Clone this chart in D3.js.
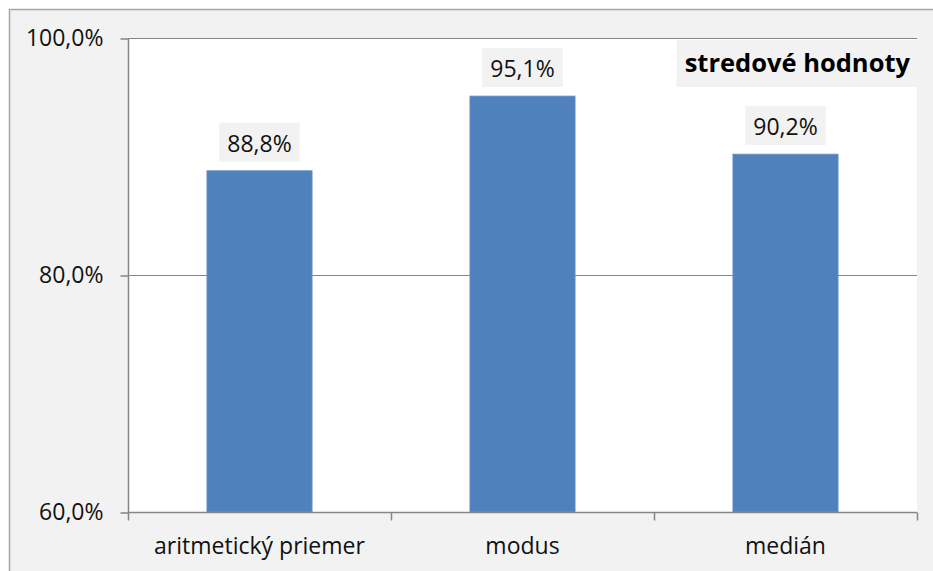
<!DOCTYPE html>
<html><head><meta charset="utf-8">
<script src="https://cdn.jsdelivr.net/npm/d3@7"></script>
<style>body{margin:0;background:#fff}svg{display:block}</style>
</head><body>
<script>
const categories = ["aritmetický priemer", "modus", "medián"];
const values = [88.8, 95.1, 90.2];
const valueLabels = ["88,8%", "95,1%", "90,2%"];
const yTicks = [60, 80, 100];
const yTickLabels = ["60,0%", "80,0%", "100,0%"];
const chartTitle = "stredové hodnoty";

const W = 933, H = 571;
const font = "'Open Sans', sans-serif";
const svg = d3.select("body").append("svg").attr("width", W).attr("height", H);

svg.append("rect").attr("x", 9.5).attr("y", 9.5).attr("width", 960).attr("height", 600)
  .attr("fill", "#f2f2f2").attr("stroke", "#a6a6a6").attr("stroke-width", 1.5);

const pL = 128, pR = 917, pT = 38, pB = 512;
svg.append("rect").attr("x", pL).attr("y", pT).attr("width", pR - pL).attr("height", pB - pT).attr("fill", "#fff");

const x = d3.scaleBand().domain(categories).range([pL, pR]).paddingInner(0.6).paddingOuter(0.3);
const y = d3.scaleLinear().domain([60, 100]).range([pB, pT]);

// gridlines
svg.append("g").selectAll("line").data(yTicks.filter(t => t !== 60)).join("line")
  .attr("x1", pL).attr("x2", pR).attr("y1", d => y(d) + 0.5).attr("y2", d => y(d) + 0.5)
  .attr("stroke", "#868686").attr("stroke-width", 1.2);

// bars
svg.append("g").selectAll("rect").data(values).join("rect")
  .attr("x", (d, i) => x(categories[i])).attr("width", x.bandwidth())
  .attr("y", d => y(d)).attr("height", d => pB - y(d))
  .attr("fill", "#4f81bd").attr("stroke", "#6f96c8").attr("stroke-width", 0.8);

// y axis
const yAxis = d3.axisLeft(y).tickValues(yTicks).tickSize(8).tickPadding(17)
  .tickFormat((d, i) => yTickLabels[i]);
const gy = svg.append("g").attr("transform", `translate(${pL + 0.5},0.5)`).call(yAxis);
gy.select(".domain").attr("stroke", "#868686").attr("stroke-width", 1.5).attr("d", `M0,${pT}V${pB}`);
gy.selectAll(".tick line").attr("stroke", "#868686").attr("stroke-width", 1.5);
gy.selectAll(".tick text").attr("font-family", font).attr("font-size", 23).attr("fill", "#111");

// x axis
const gx = svg.append("g").attr("transform", `translate(0,${pB + 0.5})`);
gx.append("line").attr("x1", pL).attr("x2", pR).attr("stroke", "#868686").attr("stroke-width", 1.5);
const boundaries = [pL].concat(categories.map(c => x(c) + x.bandwidth() + x.step() * x.paddingInner() / 2));
boundaries[boundaries.length - 1] = pR;
gx.selectAll("line.t").data(boundaries).join("line").attr("class", "t")
  .attr("x1", d => Math.round(d) + 0.5).attr("x2", d => Math.round(d) + 0.5).attr("y1", 0).attr("y2", 8)
  .attr("stroke", "#868686").attr("stroke-width", 1.5);
gx.selectAll("text").data(categories).join("text")
  .attr("x", d => x(d) + x.bandwidth() / 2).attr("y", 41)
  .attr("text-anchor", "middle").attr("font-family", font).attr("font-size", 23).attr("fill", "#111")
  .text(d => d);

// value labels with boxes
const lg = svg.append("g");
values.forEach((v, i) => {
  const cx = x(categories[i]) + x.bandwidth() / 2;
  const g = lg.append("g");
  const t = g.append("text").attr("x", cx).attr("y", y(v) - 19)
    .attr("text-anchor", "middle").attr("font-family", font).attr("font-size", 23).attr("fill", "#111")
    .text(valueLabels[i]);
  const w = t.node().getComputedTextLength() + 16;
  g.insert("rect", "text").attr("x", cx - w / 2).attr("y", y(v) - 48).attr("width", w).attr("height", 39)
    .attr("fill", "#f2f2f2");
});

// title
const tg = svg.append("g");
const tt = tg.append("text").attr("x", 910).attr("y", 72).attr("text-anchor", "end")
  .attr("font-family", font).attr("font-weight", "bold").attr("font-size", 25.5).attr("fill", "#000").text(chartTitle);
const tw = tt.node().getComputedTextLength();
tg.insert("rect", "text").attr("x", 910 - tw - 8).attr("y", 40).attr("width", tw + 15).attr("height", 47).attr("fill", "#f2f2f2");
</script>
</body></html>
